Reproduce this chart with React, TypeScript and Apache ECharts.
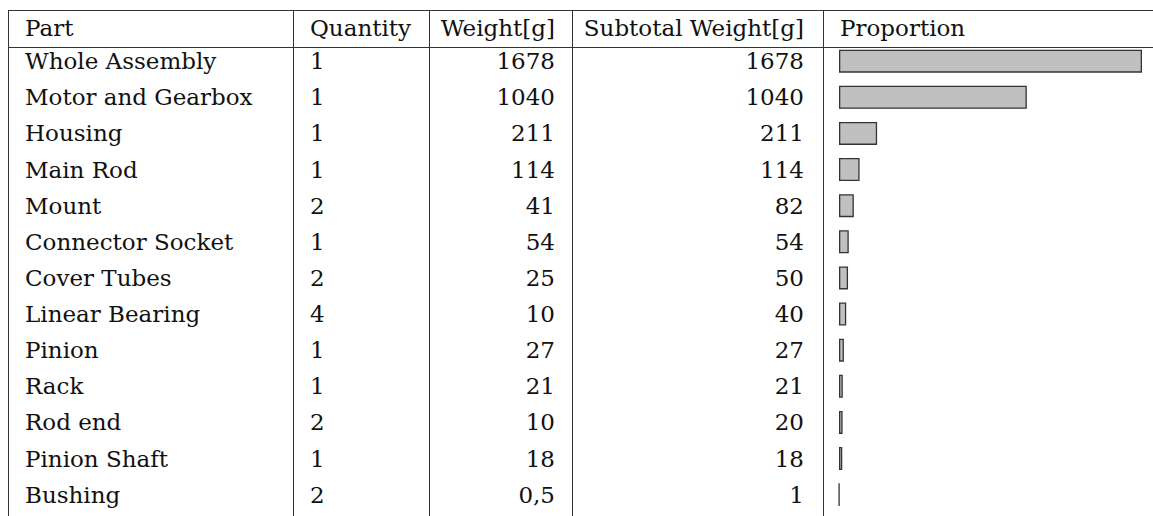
import React, { useEffect, useRef } from "react";
import * as echarts from "echarts";

const headers = ["Part", "Quantity", "Weight[g]", "Subtotal Weight[g]", "Proportion"];
const parts = [
  "Whole Assembly",
  "Motor and Gearbox",
  "Housing",
  "Main Rod",
  "Mount",
  "Connector Socket",
  "Cover Tubes",
  "Linear Bearing",
  "Pinion",
  "Rack",
  "Rod end",
  "Pinion Shaft",
  "Bushing",
];
const quantities = [1, 1, 1, 1, 2, 1, 2, 4, 1, 1, 2, 1, 2];
const weights = [1678, 1040, 211, 114, 41, 54, 25, 10, 27, 21, 10, 18, 0.5];
const subtotals = [1678, 1040, 211, 114, 82, 54, 50, 40, 27, 21, 20, 18, 1];

const FONT = "DejaVu Serif";
const FS = 23;
const TXT = "#111";
const LINE = "#333";

const fmt = (v: number) => String(v).replace(".", ",");

export default function App() {
  const ref = useRef<HTMLDivElement>(null);
  useEffect(() => {
    if (!ref.current) return;
    const chart = echarts.init(ref.current, null, { renderer: "svg" });

    const gridLeft = 839;
    const gridTop = 43.1;
    const rowH = 36.125;

    const colAxis = (values: (string | number)[], offset: number, align: string) => ({
      type: "category",
      data: parts,
      inverse: true,
      position: "left",
      offset,
      axisLine: { show: false },
      axisTick: { show: false },
      splitLine: { show: false },
      axisLabel: {
        interval: 0,
        margin: 0,
        align,
        color: TXT,
        fontFamily: FONT,
        fontSize: FS,
        hideOverlap: false,
        formatter: (_v: string, i: number) => String(values[i]),
      },
    });

    const vxs = [8.5, 293.5, 429.5, 572.5, 823.5];
    const hys = [10, 47];
    const lines: any[] = [];
    vxs.forEach((x) =>
      lines.push({
        type: "line",
        shape: { x1: x, y1: hys[0], x2: x, y2: 516 },
        style: { stroke: LINE, lineWidth: 1 },
      })
    );
    hys.forEach((y) =>
      lines.push({
        type: "line",
        shape: { x1: 8, y1: y + 0.5, x2: 1153, y2: y + 0.5 },
        style: { stroke: LINE, lineWidth: 1.2 },
      })
    );
    const headerPos = [
      { x: 25, align: "left" },
      { x: 310, align: "left" },
      { x: 555, align: "right" },
      { x: 804, align: "right" },
      { x: 840, align: "left" },
    ];
    const headerTexts = headers.map((h, i) => ({
      type: "text",
      x: headerPos[i].x,
      y: 28,
      style: {
        text: h,
        fill: TXT,
        fontFamily: FONT,
        fontSize: FS,
        align: headerPos[i].align,
        verticalAlign: "middle",
      },
    }));

    chart.setOption({
      animation: false,
      backgroundColor: "#fff",
      grid: {
        left: gridLeft,
        top: gridTop,
        width: 303,
        height: rowH * parts.length,
        containLabel: false,
        outerBoundsMode: "none",
      },
      xAxis: { type: "value", min: 0, max: 1678, show: false },
      yAxis: [
        {
          type: "category",
          data: parts,
          inverse: true,
          show: false,
        },
        colAxis(parts, gridLeft - 25, "left"),
        colAxis(quantities, gridLeft - 310, "left"),
        colAxis(weights.map(fmt), gridLeft - 555, "right"),
        colAxis(subtotals, gridLeft - 804, "right"),
      ],
      series: [
        {
          type: "bar",
          yAxisIndex: 0,
          data: subtotals,
          barWidth: 23,
          itemStyle: { color: "#c0c0c0", borderColor: "#333", borderWidth: 1.3 },
        },
      ],
      graphic: [...lines, ...headerTexts],
    });
    return () => chart.dispose();
  }, []);
  return (
    <div
      ref={ref}
      style={{ position: "fixed", left: 0, top: 0, width: 1153, height: 516 }}
    />
  );
}
